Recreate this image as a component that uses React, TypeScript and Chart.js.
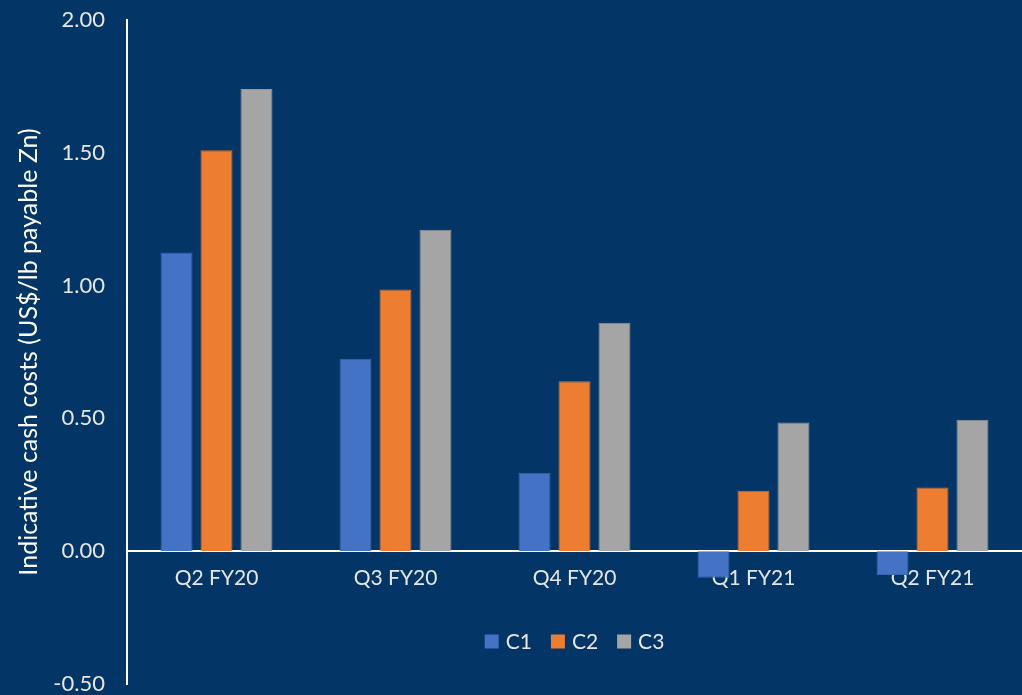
import React, { useEffect, useRef } from "react";
import { Chart, registerables } from "chart.js";

Chart.register(...registerables);

const categories = ["Q2 FY20", "Q3 FY20", "Q4 FY20", "Q1 FY21", "Q2 FY21"];
const seriesNames = ["C1", "C2", "C3"];
const c1Values = [1.125, 0.725, 0.295, -0.1, -0.09];
const c2Values = [1.51, 0.985, 0.64, 0.228, 0.24];
const c3Values = [1.74, 1.21, 0.86, 0.485, 0.495];
const seriesColors = ["#4472C4", "#ED7D31", "#A5A5A5"];
const seriesBorders = ["#3d66b0", "#d66f2a", "#959595"];
const yMin = -0.5;
const yMax = 2.0;
const yStep = 0.5;
const legendValue = -0.34;
const yTitle = "Indicative cash costs (US$/lb payable Zn)";

const BG = "#033567";
const FONT = "Lato, 'Open Sans', sans-serif";
const TEXT = "#e6e6e6";

const legendPlugin = {
  id: "insideLegend",
  afterDraw(chart: any) {
    const { ctx, chartArea } = chart;
    const yScale = chart.scales.y;
    const y = yScale.getPixelForValue(legendValue);
    ctx.save();
    ctx.font = `21px ${FONT}`;
    ctx.textBaseline = "middle";
    const box = 14;
    const gap = 7;
    const spacing = 19;
    const items = chart.data.datasets.map((d: any) => ({
      label: d.label,
      color: d.backgroundColor,
      w: box + gap + ctx.measureText(d.label).width,
    }));
    const total = items.reduce((s: number, it: any) => s + it.w, 0) + spacing * (items.length - 1);
    let x = (chartArea.left + chartArea.right) / 2 - total / 2;
    items.forEach((it: any) => {
      ctx.fillStyle = it.color;
      ctx.fillRect(x, y - box / 2, box, box);
      ctx.fillStyle = TEXT;
      ctx.textAlign = "left";
      ctx.fillText(it.label, x + box + gap, y + 1);
      x += it.w + spacing;
    });
    ctx.restore();
  },
};

const bgPlugin = {
  id: "bg",
  beforeDraw(chart: any) {
    const { ctx, width, height } = chart;
    ctx.save();
    ctx.fillStyle = BG;
    ctx.fillRect(0, 0, width, height);
    ctx.restore();
  },
};

const zeroPad = (scale: any) => {
  scale.paddingTop = 0;
  scale.paddingBottom = 0;
  scale.paddingLeft = 0;
  scale.paddingRight = 0;
};

export default function App() {
  const ref = useRef<HTMLCanvasElement | null>(null);
  useEffect(() => {
    document.body.style.margin = "0";
    const canvas = ref.current;
    if (!canvas) return;
    const values = [c1Values, c2Values, c3Values];
    const chart = new Chart(canvas, {
      type: "bar",
      data: {
        labels: categories,
        datasets: seriesNames.map((name, i) => ({
          label: name,
          data: values[i],
          backgroundColor: seriesColors[i],
          borderColor: seriesBorders[i],
          borderWidth: 1,
          barPercentage: 0.8,
          categoryPercentage: 0.67,
        })),
      },
      options: {
        animation: false,
        responsive: false,
        maintainAspectRatio: false,
        layout: { padding: { top: 20, bottom: 11, left: 0, right: 0 } },
        plugins: {
          legend: { display: false },
          tooltip: { enabled: false },
        },
        scales: {
          x: {
            type: "category",
            position: { y: 0 } as any,
            grid: { display: false, drawTicks: false },
            border: { display: true, color: "#ffffff", width: 2 },
            ticks: {
              color: TEXT,
              font: { family: FONT, size: 21 },
              padding: 14,
              maxRotation: 0,
            },
            afterFit: zeroPad,
          },
          y: {
            min: yMin,
            max: yMax,
            grid: { display: false, drawTicks: false },
            border: { display: true, color: "#ffffff", width: 2 },
            ticks: {
              stepSize: yStep,
              color: TEXT,
              font: { family: FONT, size: 22 },
              padding: 22,
              callback: (v: any) => Number(v).toFixed(2),
            },
            title: {
              display: true,
              text: yTitle,
              color: "#ffffff",
              font: { family: FONT, size: 25 },
              padding: { top: 14, bottom: 0 },
            },
            afterFit: (scale: any) => {
              scale.width = 127;
              zeroPad(scale);
            },
          },
        },
      },
      plugins: [bgPlugin, legendPlugin],
    });
    return () => chart.destroy();
  }, []);
  return (
    <div style={{ width: 1022, height: 695, background: BG }}>
      <canvas ref={ref} width={1022} height={695} style={{ display: "block" }} />
    </div>
  );
}
